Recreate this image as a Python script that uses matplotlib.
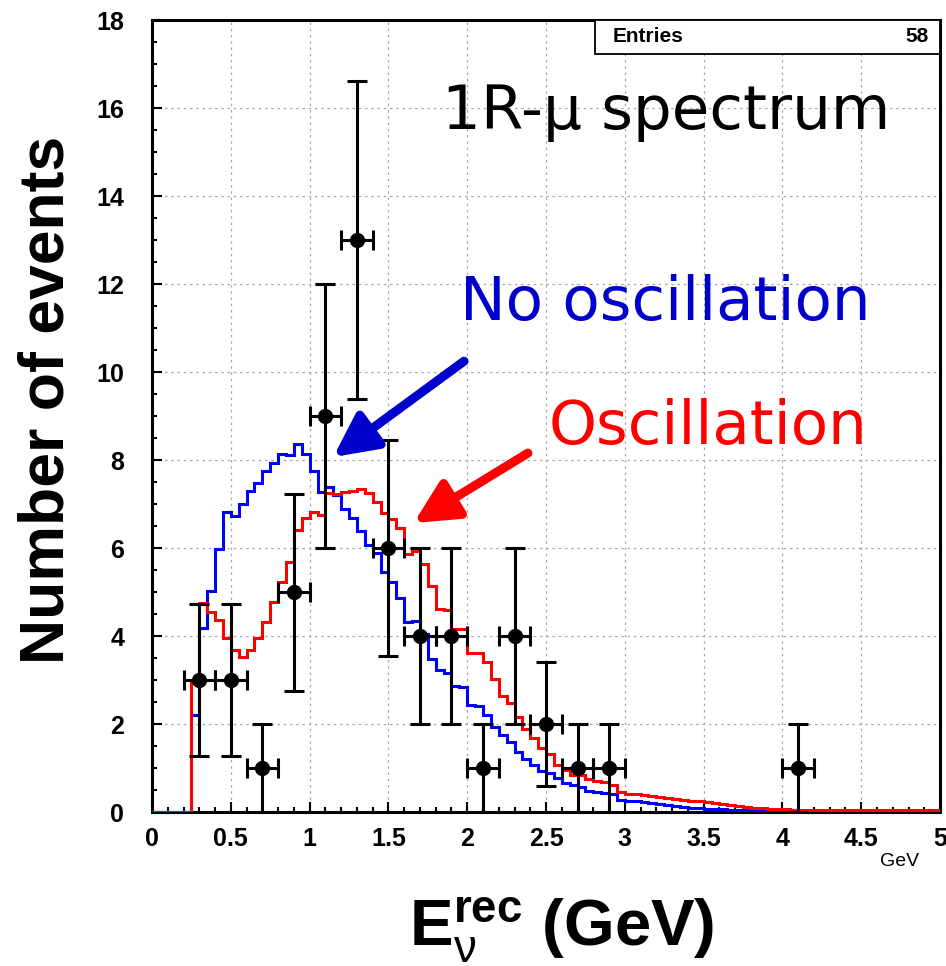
import numpy as np
import matplotlib
matplotlib.use("Agg")
import matplotlib.pyplot as plt
from matplotlib.ticker import MultipleLocator
from matplotlib.patches import Rectangle

plt.rcParams["font.family"] = ["Liberation Sans", "DejaVu Sans"]
plt.rcParams["mathtext.fontset"] = "custom"
plt.rcParams["mathtext.rm"] = "Liberation Sans"
plt.rcParams["mathtext.it"] = "Liberation Sans"
plt.rcParams["mathtext.bf"] = "Liberation Sans:bold"

# 100 bins of 0.05 GeV from 0 to 5 GeV
bin_edges = np.linspace(0, 5, 101)

# expected spectrum, no oscillation (blue)
no_osc = [0, 0, 0, 0, 0, 2.2, 4.18, 5.02, 5.98, 6.83,
          6.72, 7.0, 7.29, 7.48, 7.75, 7.94, 8.13, 8.11, 8.36, 8.13,
          7.75, 7.28, 7.40, 7.20, 6.88, 6.68, 6.40, 6.07, 5.90, 5.45,
          5.22, 4.87, 4.32, 4.34, 4.04, 3.47, 3.24, 3.16, 2.86, 2.84,
          2.44, 2.40, 2.21, 1.94, 1.75, 1.60, 1.37, 1.20, 1.08, 0.93,
          0.89, 0.77, 0.66, 0.61, 0.58, 0.47, 0.46, 0.43, 0.41, 0.28,
          0.26, 0.24, 0.22, 0.20, 0.18, 0.16, 0.14, 0.12, 0.10, 0.09,
          0.08, 0.07, 0.06, 0.05, 0.04, 0.035, 0.03, 0.025, 0.02, 0.015,
          0.012, 0.01, 0.01, 0.008, 0.006, 0.005, 0.004, 0.003, 0.002, 0.002,
          0.001, 0.001, 0.001, 0.001, 0.001, 0, 0, 0, 0, 0]

# expected spectrum, with oscillation (red)
osc = [0, 0, 0, 0, 0, 2.93, 4.75, 4.55, 4.36, 3.95,
       3.68, 3.53, 3.68, 3.95, 4.33, 4.78, 5.23, 5.68, 6.41, 6.68,
       6.83, 6.75, 7.25, 7.22, 7.28, 7.30, 7.35, 7.25, 7.05, 6.80,
       6.66, 6.45, 5.86, 5.94, 5.64, 5.14, 4.62, 4.59, 4.15, 4.15,
       3.62, 3.62, 3.40, 3.02, 2.63, 2.48, 2.17, 1.89, 1.68, 1.46,
       1.31, 1.08, 0.96, 0.85, 0.85, 0.74, 0.70, 0.68, 0.62, 0.46,
       0.42, 0.40, 0.38, 0.36, 0.34, 0.32, 0.30, 0.28, 0.26, 0.24,
       0.22, 0.20, 0.18, 0.16, 0.14, 0.12, 0.10, 0.09, 0.08, 0.07,
       0.06, 0.055, 0.05, 0.048, 0.046, 0.044, 0.042, 0.04, 0.04, 0.04,
       0.04, 0.04, 0.04, 0.04, 0.04, 0.04, 0.04, 0.04, 0.04, 0.04]

# observed events (0.2 GeV bins)
data_x = [0.3, 0.5, 0.7, 0.9, 1.1, 1.3, 1.5, 1.7, 1.9, 2.1, 2.3, 2.5, 2.7, 2.9, 4.1]
data_y = [3, 3, 1, 5, 9, 13, 6, 4, 4, 1, 4, 2, 1, 1, 1]
data_yerr = [1.73, 1.73, 1, 2.24, 3, 3.61, 2.45, 2, 2, 1, 2, 1.41, 1, 1, 1]
data_xerr = 0.1

fig = plt.figure(figsize=(9.46, 9.66), dpi=100)
ax = fig.add_axes([0.1607, 0.1594, 0.8330, 0.8196])

ax.stairs(no_osc, bin_edges, color="#0000ff", lw=2.2, zorder=3)
ax.stairs(osc, bin_edges, color="#ff0000", lw=2.2, zorder=4)
ax.errorbar(data_x, data_y, yerr=data_yerr, xerr=data_xerr, fmt="o", color="black",
            ms=10, lw=2.2, capsize=7, capthick=2.2, zorder=5)

ax.set_xlim(0, 5)
ax.set_ylim(0, 18)
ax.xaxis.set_major_locator(MultipleLocator(0.5))
ax.xaxis.set_minor_locator(MultipleLocator(0.1))
ax.yaxis.set_major_locator(MultipleLocator(2))
ax.yaxis.set_minor_locator(MultipleLocator(0.5))
ax.set_xticks(np.arange(0, 5.01, 0.5))
ax.set_xticklabels(["0", "0.5", "1", "1.5", "2", "2.5", "3", "3.5", "4", "4.5", "5"])
ax.tick_params(which="both", direction="in", top=False, right=False, width=1.5)
ax.tick_params(which="major", length=7, labelsize=18)
ax.tick_params(axis="x", which="major", pad=11)
ax.tick_params(axis="y", which="major", pad=20)
ax.tick_params(which="minor", length=3.5)
for lab in ax.get_xticklabels() + ax.get_yticklabels():
    lab.set_fontweight("bold")
ax.grid(True, which="major", color="#a8a8a8", linestyle=(0, (2, 3)), lw=0.9)
for s in ax.spines.values():
    s.set_linewidth(2.2)

# stats box
ax.add_patch(Rectangle((0.562, 0.958), 0.438, 0.042, transform=ax.transAxes,
                       facecolor="white", edgecolor="black", lw=1.3, zorder=6))
ax.text(0.585, 0.979, "Entries", transform=ax.transAxes, fontsize=15,
        fontweight="bold", va="center", ha="left", zorder=7)
ax.text(0.985, 0.979, "58", transform=ax.transAxes, fontsize=15,
        fontweight="bold", va="center", ha="right", zorder=7)

# annotations
ax.text(3.26, 15.9, "1R-\u03bc spectrum", fontsize=44, family="DejaVu Sans",
        ha="center", va="center", color="black", zorder=7)
ax.text(3.26, 11.55, "No oscillation", fontsize=44, family="DejaVu Sans",
        ha="center", va="center", color="#0000cc", zorder=7)
ax.text(3.53, 8.75, "Oscillation", fontsize=44, family="DejaVu Sans",
        ha="center", va="center", color="#ff0000", zorder=7)
arrow_style = "-|>,head_length=1.3,head_width=0.65"
ax.annotate("", xy=(1.15, 8.07), xytext=(1.98, 10.25),
            arrowprops=dict(arrowstyle=arrow_style, mutation_scale=20,
                            color="#0000cc", lw=6.5, shrinkA=0, shrinkB=0), zorder=7)
ax.annotate("", xy=(1.66, 6.57), xytext=(2.385, 8.16),
            arrowprops=dict(arrowstyle=arrow_style, mutation_scale=20,
                            color="#ff0000", lw=6.5, shrinkA=0, shrinkB=0), zorder=7)

fig.text(0.951, 0.108, "GeV", fontsize=14, ha="center", va="center")
fig.text(0.05, 0.586, "Number of events", fontsize=45, fontweight="bold",
         rotation=90, ha="center", va="center")
fig.text(0.594, 0.036, r"$\mathbf{E}_{\nu}^{\mathbf{rec}}$ (GeV)", fontsize=47,
         fontweight="bold", ha="center", va="center")

fig.savefig("out.png", dpi=100)
